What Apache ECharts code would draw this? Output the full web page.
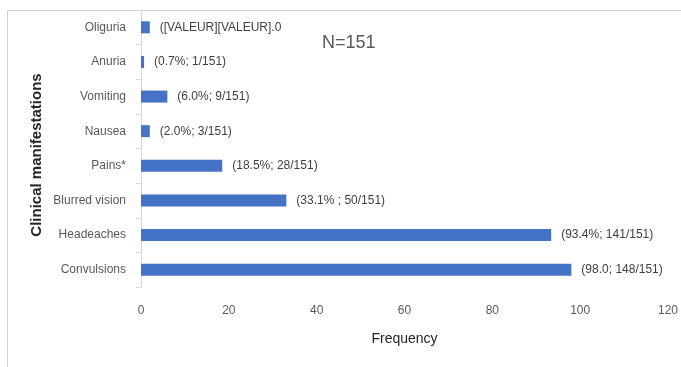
<!DOCTYPE html>
<html>
<head>
<meta charset="utf-8">
<script src="https://cdn.jsdelivr.net/npm/echarts@6/dist/echarts.min.js"></script>
<style>
  html, body { margin: 0; padding: 0; background: #fff; }
  #chart { width: 681px; height: 367px; }
</style>
</head>
<body>
<div id="chart"></div>
<script>
// Clinical manifestations, top to bottom
const categories = ['Oliguria', 'Anuria', 'Vomiting', 'Nausea', 'Pains*', 'Blurred vision', 'Headeaches', 'Convulsions'];
// Frequency (%) per manifestation
const frequencies = [2.0, 0.7, 6.0, 2.0, 18.5, 33.1, 93.4, 98.0];
// Text printed beside each bar
const barLabels = ['([VALEUR][VALEUR].0', '(0.7%; 1/151)', '(6.0%; 9/151)', '(2.0%; 3/151)', '(18.5%; 28/151)', '(33.1% ; 50/151)', '(93.4%; 141/151)', '(98.0; 148/151)'];
const xTicks = [0, 20, 40, 60, 80, 100, 120];

const chart = echarts.init(document.getElementById('chart'), null, { renderer: 'canvas' });
const font = '"Liberation Sans", Arial, sans-serif';

chart.setOption({
  animation: false,
  backgroundColor: '#ffffff',
  grid: { left: 141, right: 12, top: 10, bottom: 80, containLabel: false },
  xAxis: {
    type: 'value',
    min: xTicks[0],
    max: xTicks[xTicks.length - 1],
    interval: 20,
    name: 'Frequency',
    nameLocation: 'middle',
    nameGap: 45,
    nameTextStyle: { color: '#262626', fontSize: 14, fontFamily: font },
    axisLine: { show: false },
    axisTick: { show: false },
    splitLine: { show: false },
    axisLabel: { color: '#595959', fontSize: 12, fontFamily: font, margin: 18 }
  },
  yAxis: {
    type: 'category',
    inverse: true,
    data: categories,
    axisLine: { show: true, lineStyle: { color: '#d9d9d9', width: 1 } },
    axisTick: { show: true, length: 5, lineStyle: { color: '#d9d9d9' } },
    axisLabel: { color: '#595959', fontSize: 12, fontFamily: font, margin: 15 }
  },
  series: [{
    type: 'bar',
    data: frequencies,
    barWidth: 12,
    itemStyle: { color: '#4472c4' },
    label: {
      show: true,
      position: 'right',
      distance: 10,
      color: '#404040',
      fontSize: 12,
      fontFamily: font,
      formatter: p => barLabels[p.dataIndex]
    }
  }],
  graphic: [
    { type: 'line', shape: { x1: 7.5, y1: 10.5, x2: 681, y2: 10.5 }, style: { stroke: '#d0d0d0', lineWidth: 1 } },
    { type: 'line', shape: { x1: 7.5, y1: 10.5, x2: 7.5, y2: 367 }, style: { stroke: '#d0d0d0', lineWidth: 1 } },
    { type: 'text', left: 322, top: 34, style: { text: 'N=151', fill: '#595959', font: '18px "Liberation Sans", Arial, sans-serif' } },
    {
      type: 'text', x: 37, y: 155, rotation: Math.PI / 2,
      style: {
        text: 'Clinical manifestations', fill: '#262626',
        font: 'bold 15px "Liberation Sans", Arial, sans-serif',
        align: 'center', verticalAlign: 'middle'
      }
    }
  ]
});
</script>
</body>
</html>
